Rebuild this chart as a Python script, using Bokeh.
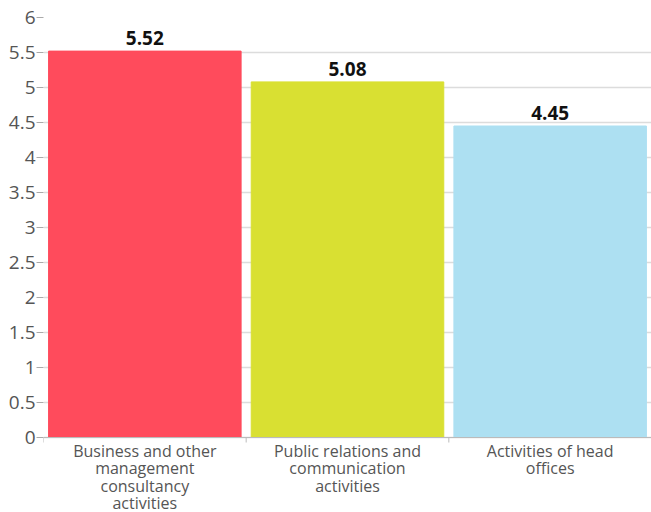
import math
from bokeh.plotting import figure
from bokeh.models import ColumnDataSource, FixedTicker, Range1d, Span
from bokeh.core.properties import value
from bokeh.embed import file_html
from bokeh.resources import INLINE

categories = ["Business and other\nmanagement\nconsultancy\nactivities",
              "Public relations and\ncommunication\nactivities",
              "Activities of head\noffices"]
values = [5.52, 5.08, 4.45]
colors = ["#FF4B5C", "#D9E032", "#ADE0F2"]
labels = ["5.52", "5.08", "4.45"]
y_ticks = [0, 0.5, 1, 1.5, 2, 2.5, 3, 3.5, 4, 4.5, 5, 5.5, 6]

n = len(categories)
xs = [i + 0.5 for i in range(n)]
bounds = list(range(n + 1))
src = ColumnDataSource(dict(x=xs, top=values, color=colors, label=labels, cat=categories))

# frame: 6 at 17px, 0 at 437px, frame runs to canvas bottom (512) to hold the category text
px_per_unit = (437 - 17) / 6.0
y_start = -(512 - 437) / px_per_unit

p = figure(width=651, height=512, output_backend="svg", toolbar_location=None,
           x_range=Range1d(0, n), y_range=Range1d(y_start, 6),
           min_border_left=43, min_border_right=0, min_border_top=17, min_border_bottom=0)
p.outline_line_color = None
p.background_fill_color = "white"
p.xaxis.visible = False

p.ygrid.ticker = FixedTicker(ticks=y_ticks)
p.ygrid.grid_line_color = "#dcdcdc"
p.ygrid.grid_line_width = 1.5
p.xgrid.grid_line_color = None

p.vbar(x="x", top="top", width=0.95, color="color", source=src)
p.text(x="x", y="top", text="label", source=src, text_align="center", text_baseline="bottom",
       y_offset=-6, text_font=value("Open Sans"), text_font_style="bold",
       text_font_size="19px", text_color="#111111")

# x axis line and boundary ticks
p.add_layout(Span(location=0, dimension="width", line_color="#bbbbbb", line_width=1.2))
p.ray(x=bounds, y=[0] * len(bounds), length=5, length_units="screen", angle=-math.pi / 2,
      line_color="#bbbbbb", line_width=1)

# category labels
p.text(x="x", y=0, text="cat", source=src, text_align="center", text_baseline="top",
       y_offset=2, text_font=value("Open Sans"), text_font_size="16px",
       text_line_height=0.8, text_color="#555555")

# y axis
p.yaxis.ticker = FixedTicker(ticks=y_ticks)
p.yaxis.major_label_overrides = {t: (str(t) if t != int(t) else str(int(t))) for t in y_ticks}
p.yaxis.axis_line_color = None
p.yaxis.major_tick_line_color = "#aaaaaa"
p.yaxis.major_tick_out = 7
p.yaxis.major_tick_in = 0
p.yaxis.minor_tick_line_color = None
p.yaxis.major_label_text_font = "Open Sans"
p.yaxis.major_label_text_font_size = "19px"
p.yaxis.major_label_text_color = "#555555"
p.yaxis.major_label_standoff = 1

open("out.html", "w").write(file_html(p, INLINE))
